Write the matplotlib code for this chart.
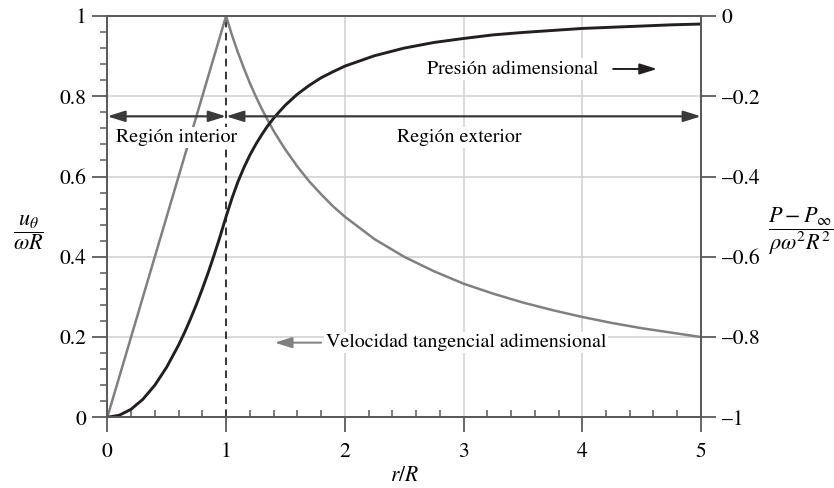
import matplotlib
matplotlib.use("Agg")
import matplotlib.pyplot as plt
from matplotlib.ticker import MultipleLocator, FixedLocator

plt.rcParams['font.family'] = ['STIXGeneral', 'DejaVu Serif']
plt.rcParams['mathtext.fontset'] = 'stix'
plt.rcParams['font.size'] = 15.5

# values
r_vel = [0.0, 1.0, 1.05, 1.1, 1.15, 1.2, 1.25, 1.3, 1.35, 1.4, 1.45, 1.5, 1.6, 1.7,
         1.8, 1.9, 2.0, 2.25, 2.5, 2.75, 3.0, 3.25, 3.5, 3.75, 4.0, 4.25, 4.5,
         4.75, 5.0]
u_vel = [0.0, 1.0, 0.952, 0.909, 0.870, 0.833, 0.8, 0.769, 0.741, 0.714, 0.690,
         0.667, 0.625, 0.588, 0.556, 0.526, 0.5, 0.444, 0.4, 0.364, 0.333, 0.308,
         0.286, 0.267, 0.25, 0.235, 0.222, 0.211, 0.2]

r_pres = [0.0, 0.1, 0.2, 0.3, 0.4, 0.5, 0.6, 0.65, 0.7, 0.75, 0.8, 0.85, 0.9, 0.95,
          1.0, 1.05, 1.1, 1.15, 1.2, 1.25, 1.3, 1.35, 1.4, 1.45, 1.5, 1.6, 1.7,
          1.8, 1.9, 2.0, 2.25, 2.5, 2.75, 3.0, 3.25, 3.5, 3.75, 4.0, 4.25, 4.5,
          4.75, 5.0]
p_pres = [-1.0, -0.995, -0.98, -0.955, -0.92, -0.875, -0.82, -0.789, -0.755,
          -0.719, -0.68, -0.639, -0.595, -0.549, -0.5, -0.454, -0.413, -0.378,
          -0.347, -0.32, -0.296, -0.274, -0.255, -0.238, -0.222, -0.195, -0.173,
          -0.154, -0.139, -0.125, -0.099, -0.08, -0.066, -0.056, -0.047, -0.041,
          -0.036, -0.031, -0.028, -0.025, -0.022, -0.02]

x_ticks = [0, 1, 2, 3, 4, 5]
left_ticks = [0, 0.2, 0.4, 0.6, 0.8, 1]
left_labels = ['0', '0.2', '0.4', '0.6', '0.8', '1']
right_ticks = [-1, -0.8, -0.6, -0.4, -0.2, 0]
right_labels = ['–1', '–0.8', '–0.6', '–0.4', '–0.2', '0']

spine_col = '#5a5a5a'
grid_col = '#cfcfcf'
note_size = 14.4

fig = plt.figure(figsize=(8.34, 4.88), dpi=100)
ax = fig.add_axes([0.1287, 0.1449, 0.7118, 0.8223])
ax2 = ax.twinx()

ax.set_xlim(0, 5)
ax.set_ylim(0, 1)
ax2.set_ylim(-1, 0)

# grid
for gx in [2, 3, 4]:
    ax.axvline(gx, color=grid_col, lw=1.1, zorder=0)
for gy in [0.2, 0.4, 0.6, 0.8]:
    ax.axhline(gy, color=grid_col, lw=1.1, zorder=0)
ax.axvline(1, color='black', lw=1.1, ls=(0, (5, 3.5)), zorder=1)

ax.plot(r_vel, u_vel, color='#808080', lw=1.8, zorder=2)
ax2.plot(r_pres, p_pres, color='#231f20', lw=2.1, zorder=2)

for a in (ax, ax2):
    for s in a.spines.values():
        s.set_color(spine_col)
        s.set_linewidth(1.3)

ax.xaxis.set_major_locator(FixedLocator(x_ticks))
ax.xaxis.set_minor_locator(MultipleLocator(0.2))
ax.set_yticks(left_ticks)
ax.set_yticklabels(left_labels)
ax.yaxis.set_minor_locator(MultipleLocator(0.04))
ax.tick_params(axis='x', which='major', direction='out', length=11, width=1.3,
               color=spine_col, pad=7)
ax.tick_params(axis='x', which='minor', direction='in', length=5, width=1.1,
               color=spine_col)
ax.tick_params(axis='y', which='major', direction='out', length=11, width=1.3,
               color=spine_col, pad=4)
ax.tick_params(axis='y', which='minor', direction='out', length=5, width=1.1,
               color=spine_col)
ax2.set_yticks(right_ticks)
ax2.set_yticklabels(right_labels)
ax2.tick_params(axis='y', which='major', direction='out', length=11, width=1.3,
                color=spine_col, pad=4)

ax.set_xlabel('$r/R$', labelpad=3)
fig.text(0.034, 0.525, r'$\dfrac{u_\theta}{\omega R}$', ha='center', va='center',
         fontsize=16)
fig.text(0.961, 0.527, r'$\dfrac{P - P_\infty}{\rho\omega^2 R^2}$', ha='center',
         va='center', fontsize=16)

# region arrows
arr = dict(arrowstyle='<|-|>,head_length=0.7,head_width=0.22', color='#3a3a3a',
           lw=1.6, shrinkA=0, shrinkB=0, mutation_scale=15)
ax2.annotate('', xy=(0, 0.75), xytext=(1, 0.75), xycoords=ax.transData,
             textcoords=ax.transData, arrowprops=arr, zorder=5)
ax2.annotate('', xy=(1, 0.75), xytext=(5, 0.75), xycoords=ax.transData,
             textcoords=ax.transData, arrowprops=arr, zorder=5)

box = dict(facecolor='white', edgecolor='none', pad=1.5)
ax2.text(0.58, 0.698, 'Región interior', transform=ax.transData, ha='center',
         va='center', bbox=box, zorder=6, fontsize=note_size)
ax2.text(2.966, 0.698, 'Región exterior', transform=ax.transData, ha='center',
         va='center', bbox=box, zorder=6, fontsize=note_size)
ax2.text(2.69, 0.868, 'Presión adimensional', transform=ax.transData, ha='left',
         va='center', bbox=box, zorder=6, fontsize=note_size)
ax2.text(1.84, 0.186, 'Velocidad tangencial adimensional', transform=ax.transData,
         ha='left', va='center', bbox=box, zorder=6, fontsize=note_size)

ax2.annotate('', xy=(4.63, 0.868), xytext=(4.26, 0.868), xycoords=ax.transData,
             textcoords=ax.transData, zorder=6,
             arrowprops=dict(arrowstyle='-|>,head_length=0.7,head_width=0.22',
                             color='#231f20', lw=1.4, shrinkA=0, shrinkB=0,
                             mutation_scale=15))
ax2.annotate('', xy=(1.41, 0.186), xytext=(1.80, 0.186), xycoords=ax.transData,
             textcoords=ax.transData, zorder=6,
             arrowprops=dict(arrowstyle='-|>,head_length=0.7,head_width=0.22',
                             color='#808080', lw=1.4, shrinkA=0, shrinkB=0,
                             mutation_scale=15))

fig.savefig('out.png', dpi=100)
